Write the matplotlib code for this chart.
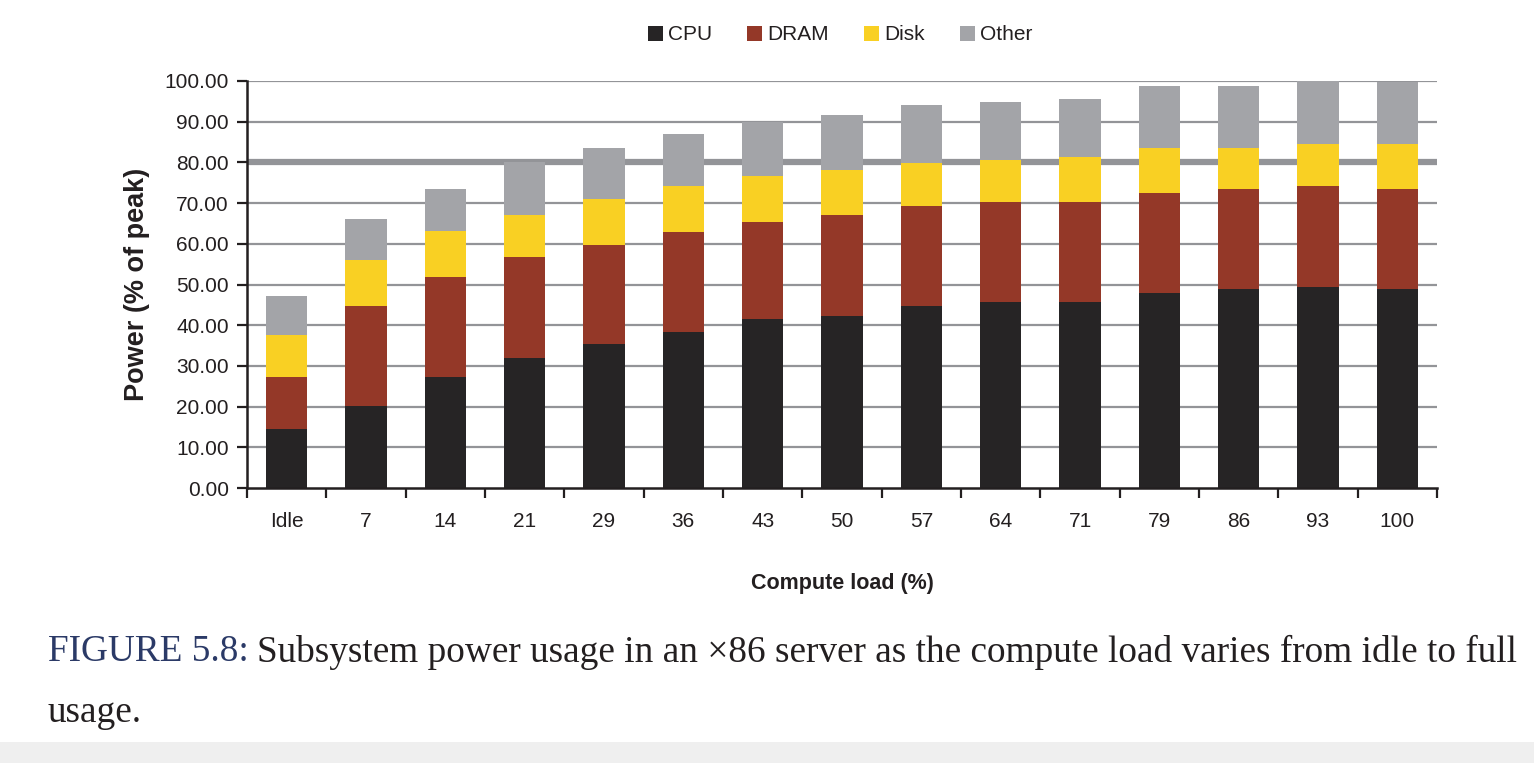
import matplotlib
matplotlib.use("Agg")
from matplotlib import pyplot as plt
from matplotlib.patches import Rectangle
import numpy as np

# valores (% de la potencia pico)
loads = ["Idle", "7", "14", "21", "29", "36", "43", "50", "57", "64", "71", "79", "86", "93", "100"]
cpu = [14.4, 20.1, 27.3, 32.0, 35.3, 38.4, 41.6, 42.3, 44.8, 45.6, 45.6, 48.0, 48.8, 49.4, 48.8]
dram = [12.9, 24.7, 24.6, 24.7, 24.5, 24.6, 23.7, 24.8, 24.6, 24.6, 24.6, 24.5, 24.6, 24.8, 24.6]
disk = [10.2, 11.2, 11.2, 10.4, 11.2, 11.3, 11.3, 11.0, 10.4, 10.4, 11.1, 11.1, 10.2, 10.4, 11.2]
other = [9.6, 10.2, 10.3, 13.0, 12.6, 12.6, 13.3, 13.5, 14.2, 14.2, 14.2, 15.2, 15.2, 15.4, 15.2]

names = ["CPU", "DRAM", "Disk", "Other"]
colors = ["#262425", "#943828", "#f9d023", "#a3a4a8"]
text_color = "#231f20"

plt.rcParams["font.family"] = ["Liberation Sans", "DejaVu Sans"]

fig = plt.figure(figsize=(15.34, 7.63), dpi=100)
ax = fig.add_axes([247 / 1534, 1 - 488 / 763, 1190 / 1534, 407 / 763])

x = np.arange(len(loads))
bottom = np.zeros(len(loads))
for name, values, color in zip(names, [cpu, dram, disk, other], colors):
    ax.bar(x, values, width=0.52, bottom=bottom, color=color, label=name, zorder=3)
    bottom += np.array(values)

ax.set_xlim(-0.5, len(loads) - 0.5)
ax.set_ylim(0, 100)

# rejilla horizontal (la de 80 es más gruesa en el original)
yt = np.arange(0, 101, 10)
for v in yt[1:]:
    ax.axhline(v, color="#939498", lw=4.5 if v == 80 else 1.6, zorder=1)

ax.set_yticks(yt)
ax.set_yticklabels([f"{v:.2f}" for v in yt])
ax.set_xticks(x)
ax.set_xticklabels(loads)
ax.set_xticks(np.arange(-0.5, len(loads), 1), minor=True)
ax.tick_params(axis="x", which="major", length=0, pad=17, labelsize=15, colors=text_color)
ax.tick_params(axis="x", which="minor", length=7, width=1.6, direction="out", color=text_color)
ax.tick_params(axis="y", length=7, width=1.6, pad=6, labelsize=15, colors=text_color)

for side in ["top", "right"]:
    ax.spines[side].set_visible(False)
for side in ["left", "bottom"]:
    ax.spines[side].set_linewidth(1.8)
    ax.spines[side].set_color(text_color)
    ax.spines[side].set_zorder(4)

ax.set_xlabel("Compute load (%)", fontsize=15.5, fontweight="bold", color=text_color)
ax.xaxis.set_label_coords(0.5, -(583 - 488) / 407)
ax.xaxis.label.set_va("center")
ax.set_ylabel("Power (% of peak)", fontsize=19.5, fontweight="bold", color=text_color)
ax.yaxis.set_label_coords(-(247 - 137) / 1190, 0.5)
ax.yaxis.label.set_va("center")

fig.legend(loc="center", bbox_to_anchor=(840 / 1534, 1 - 35 / 763), ncol=4, frameon=False,
           fontsize=15, handlelength=0.7, handleheight=0.7, handletextpad=0.25,
           columnspacing=1.7, labelcolor=text_color)

# pie de figura con "FIGURE 5.8:" en azul oscuro
serif = ["Liberation Serif", "DejaVu Serif"]
cap_size = 26.8
t1 = fig.text(48 / 1534, 1 - 652 / 763, "FIGURE 5.8:", fontsize=cap_size, family=serif,
              color="#2b3a67", va="center", ha="left")
fig.canvas.draw()
bb = t1.get_window_extent()
fig.text((bb.x1 + 8) / 1534, 1 - 652 / 763,
         "Subsystem power usage in an ×86 server as the compute load varies from idle to full",
         fontsize=cap_size, family=serif, color=text_color, va="center", ha="left")
fig.text(48 / 1534, 1 - 713 / 763, "usage.", fontsize=cap_size, family=serif,
         color=text_color, va="center", ha="left")

# franja gris inferior
fig.patches.append(Rectangle((0, 0), 1, 21 / 763, transform=fig.transFigure,
                             facecolor="#efefef", edgecolor="none", zorder=0))

plt.savefig("out.png", dpi=100)
